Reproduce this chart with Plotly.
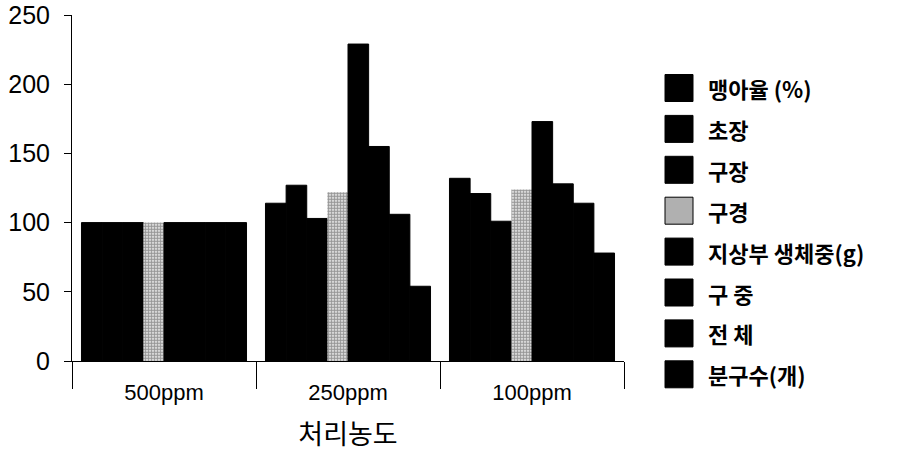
import plotly.graph_objects as go

# Treatment concentrations and relative growth indices (500ppm = 100)
categories = ["500ppm", "250ppm", "100ppm"]
series_names = ["맹아율 (%)", "초장", "구장", "구경",
                "지상부 생체중(g)", "구 중", "전 체", "분구수(개)"]
sprouting = [100, 114, 132]
plant_height = [100, 127, 121]
bulb_length = [100, 103, 101]
bulb_diameter = [100, 122, 124]
shoot_fresh_weight = [100, 229, 173]
bulb_weight = [100, 155, 128]
total_weight = [100, 106, 114]
bulblet_count = [100, 54, 78]
series_values = [sprouting, plant_height, bulb_length, bulb_diameter,
                 shoot_fresh_weight, bulb_weight, total_weight, bulblet_count]
y_ticks = [0, 50, 100, 150, 200, 250]

W, H = 903, 452
ML, MR, MT, MB = 72, 279, 15, 91
PW, PH = W - ML - MR, H - MT - MB

def px_x(x):
    return (x - ML) / PW

def px_y(y):
    return (H - MB - y) / PH

fig = go.Figure()
for name, vals in zip(series_names, series_values):
    if name == "구경":
        marker = dict(color="#ffffff",
                      line=dict(width=0),
                      pattern=dict(shape=".", fgcolor="#303030",
                                   bgcolor="#ffffff", size=3, solidity=0.7))
    else:
        marker = dict(color="#000000", line=dict(color="#000000", width=1))
    fig.add_trace(go.Bar(x=categories, y=vals, name=name, marker=marker,
                         showlegend=False))

# Custom legend with large square swatches
shapes = []
annotations = []
sw_x0, sw_x1 = 665, 693
for i, name in enumerate(series_names):
    cy = 88 + i * 40.9
    fill = "#b0b0b0" if name == "구경" else "#000000"
    shapes.append(dict(type="rect", xref="paper", yref="paper",
                       x0=px_x(sw_x0), x1=px_x(sw_x1),
                       y0=px_y(cy + 13.5), y1=px_y(cy - 13.5),
                       fillcolor=fill, line=dict(color="#000000", width=1)))
    annotations.append(dict(xref="paper", yref="paper", x=px_x(706), y=px_y(cy),
                            text=name, showarrow=False, xanchor="left",
                            yanchor="middle",
                            font=dict(family="Noto Sans CJK KR", size=22,
                                      weight="bold", color="#000000")))

fig.update_layout(
    width=W, height=H,
    margin=dict(l=ML, r=MR, t=MT, b=MB, pad=0),
    paper_bgcolor="white", plot_bgcolor="white",
    barmode="group", bargap=0.103, bargroupgap=0,
    shapes=shapes, annotations=annotations,
    xaxis=dict(
        automargin=False,
        showline=True, linecolor="#000000", linewidth=1,
        ticks="outside", tickson="boundaries", ticklen=27,
        tickcolor="#000000", tickwidth=1,
        showgrid=False, zeroline=False,
        ticklabelstandoff=12,
        tickfont=dict(family="Liberation Sans", size=22, color="#000000"),
        title=dict(text="처리농도", standoff=20,
                   font=dict(family="Noto Sans CJK KR", size=27,
                             color="#000000")),
    ),
    yaxis=dict(
        automargin=False,
        range=[0, 250], tickvals=y_ticks,
        showline=True, linecolor="#000000", linewidth=1,
        ticks="outside", ticklen=7, tickcolor="#000000", tickwidth=1,
        showgrid=False, zeroline=False,
        ticklabelstandoff=9,
        tickfont=dict(family="Liberation Sans", size=25, color="#000000"),
    ),
)

fig.write_html("out.html")
